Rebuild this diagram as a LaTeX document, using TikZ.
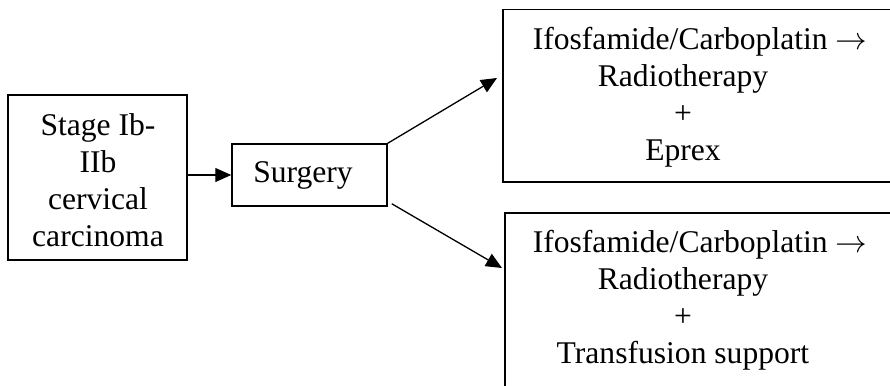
\RequirePackage{fix-cm}
\documentclass[tikz,border=0pt]{standalone}
\usepackage{fontspec}
\setmainfont{Liberation Serif}
\usetikzlibrary{arrows.meta,calc}
\tikzset{
  box/.style={draw, line width=1.5pt, inner sep=0pt, align=center},
  label text/.style={align=center, font=\fontsize{31.6}{37}\selectfont, inner sep=0pt},
  flow/.style={line width=1.3pt, -{Triangle[length=16pt,width=14pt]}},
}
% first line of an arm: drug pair followed by a long arrow, set slightly right of centre
\newcommand{\drugline}{\hspace*{34pt}Ifosfamide/Carboplatin $\rightarrow$}
\begin{document}
\begin{tikzpicture}[x=1pt,y=-1pt]
  \useasboundingbox (0,0) rectangle (890,385);
  \clip (0,0) rectangle (890,385);

  % starting condition
  \node[box, minimum width=179pt, minimum height=165pt] (stage) at (97.5,177.5) {};
  \node[label text] (stagetext) at (98,180) {Stage Ib-\\IIb\\cervical\\carcinoma};

  % surgery step
  \node[box, minimum width=155pt, minimum height=62pt] (surg) at (309.5,175) {};
  \node[label text] (surgtext) at (303,175) {Surgery};

  % treatment arms (boxes run past the right margin)
  \node[box, anchor=north west, minimum width=420pt, minimum height=172pt] (armA) at (502,9) {};
  \node[label text] (armAtext) at (683,97) {\drugline\\Radiotherapy\\+\\Eprex};

  \node[box, anchor=north west, minimum width=420pt, minimum height=220pt] (armB) at (504,212) {};
  \node[label text] (armBtext) at (683,300) {\drugline\\Radiotherapy\\+\\Transfusion support};

  % arrow targets just outside the arm boxes
  \coordinate (tipA) at ($(armA.north west)+(-5,69)$);
  \coordinate (tipB) at ($(armB.north west)+(-2,56)$);

  \draw[flow] (stage.east |- surg.west) -- (surg.west);
  \draw[flow] (surg.north east) -- (tipA);
  \draw[flow] ($(surg.south east)+(4,-3)$) -- (tipB);
\end{tikzpicture}
\end{document}
